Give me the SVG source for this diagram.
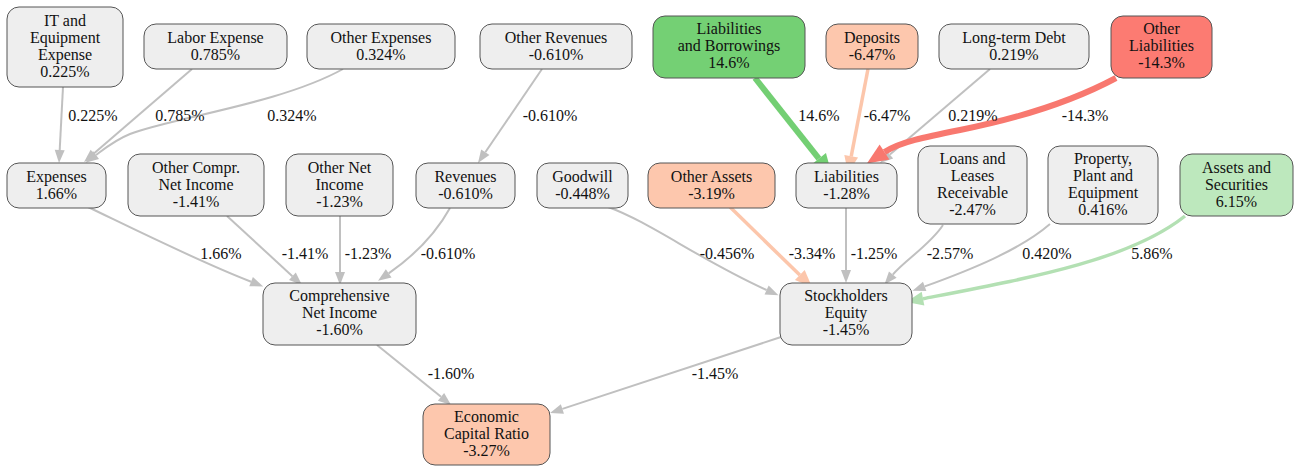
<svg xmlns="http://www.w3.org/2000/svg" width="1294" height="466" viewBox="0 0 1294 466" font-family="'Liberation Serif', 'Times New Roman', 'DejaVu Serif', serif" font-size="16">
<style>
.n rect{stroke:#555;stroke-width:1}
.g rect{fill:#eeeeee}
.peach rect{fill:#fdc7ad}
.green rect{fill:#74d074}
.red rect{fill:#fc7b72}
.lgreen rect{fill:#bde8bd}
text{fill:#111;text-anchor:middle}
.e path{fill:none}
.eg{stroke:#c0c0c0;stroke-width:2}
.ep{stroke:#fcc6ab;stroke-width:3.5}
.egr{stroke:#73cf73;stroke-width:6}
.er{stroke:#f8786f;stroke-width:6}
.elg{stroke:#b3e0b3;stroke-width:3.5}
</style>
<defs>
<marker id="mg" markerUnits="userSpaceOnUse" viewBox="0 -5 13 10" refX="0" refY="0" markerWidth="13" markerHeight="10" orient="auto" overflow="visible"><path d="M0,-5 L13,0 L0,5 z" fill="#c0c0c0"/></marker>
<marker id="mp" markerUnits="userSpaceOnUse" viewBox="0 -7 17 14" refX="0" refY="0" markerWidth="17" markerHeight="14" orient="auto" overflow="visible"><path d="M0,-7 L17,0 L0,7 z" fill="#fcc6ab"/></marker>
<marker id="mlg" markerUnits="userSpaceOnUse" viewBox="0 -7 17 14" refX="0" refY="0" markerWidth="17" markerHeight="14" orient="auto" overflow="visible"><path d="M0,-7 L17,0 L0,7 z" fill="#b3e0b3"/></marker>
<marker id="mgr" markerUnits="userSpaceOnUse" viewBox="0 -9 21 18" refX="0" refY="0" markerWidth="21" markerHeight="18" orient="auto" overflow="visible"><path d="M0,-9 L21,0 L0,9 z" fill="#73cf73"/></marker>
<marker id="mr" markerUnits="userSpaceOnUse" viewBox="0 -9 21 18" refX="0" refY="0" markerWidth="21" markerHeight="18" orient="auto" overflow="visible"><path d="M0,-9 L21,0 L0,9 z" fill="#f8786f"/></marker>
</defs>

<g id="connectors" class="e">
<path class="eg" d="M63,87 L59.7,150" marker-end="url(#mg)"/>
<path class="eg" d="M192,69 L93.9,153.5" marker-end="url(#mg)"/>
<path class="eg" d="M343,69 C280,104 170,118 130,134 C115,140 104,149 96,155" marker-end="url(#mg)"/>
<path class="eg" d="M542,69 L485.3,152.3" marker-end="url(#mg)"/>
<path class="eg" d="M990,69 L889.9,154.6" marker-end="url(#mg)"/>
<path class="ep" d="M868,69 L851.2,156.3" marker-end="url(#mp)"/>
<path class="egr" d="M755,78 L818.9,158.6" marker-end="url(#mgr)"/>
<path class="er" d="M1116,78 C1060,108 1000,122 960,130 C925,137 900,142 884.5,152" marker-end="url(#mr)"/>
<path class="eg" d="M88,207 C140,232 200,262 251.1,281.7" marker-end="url(#mg)"/>
<path class="eg" d="M227,216 L292.4,276.2" marker-end="url(#mg)"/>
<path class="eg" d="M340,216 L340,272" marker-end="url(#mg)"/>
<path class="eg" d="M450,208 C435,235 415,255 388.7,273.4" marker-end="url(#mg)"/>
<path class="eg" d="M608,207 C650,222 700,260 766.6,290" marker-end="url(#mg)"/>
<path class="ep" d="M730,207 L799.8,275.1" marker-end="url(#mp)"/>
<path class="eg" d="M846,208 L846,270" marker-end="url(#mg)"/>
<path class="eg" d="M943,225 C930,245 905,260 892.8,274.6" marker-end="url(#mg)"/>
<path class="eg" d="M1050,224 C1020,250 970,270 924.7,286.4" marker-end="url(#mg)"/>
<path class="elg" d="M1185,216 C1130,260 1030,278 923,298.7" marker-end="url(#mlg)"/>
<path class="eg" d="M377,345 L441,396.8" marker-end="url(#mg)"/>
<path class="eg" d="M781,337 L562.4,408.9" marker-end="url(#mg)"/>
</g>

<g id="edge-labels">
<text x="93" y="121">0.225%</text>
<text x="180" y="121">0.785%</text>
<text x="292" y="121">0.324%</text>
<text x="550" y="121">-0.610%</text>
<text x="819" y="121">14.6%</text>
<text x="887" y="121">-6.47%</text>
<text x="973" y="121">0.219%</text>
<text x="1085" y="121">-14.3%</text>
<text x="221" y="259">1.66%</text>
<text x="305" y="259">-1.41%</text>
<text x="368" y="259">-1.23%</text>
<text x="448" y="259">-0.610%</text>
<text x="727" y="259">-0.456%</text>
<text x="812" y="259">-3.34%</text>
<text x="874" y="259">-1.25%</text>
<text x="950" y="259">-2.57%</text>
<text x="1047" y="259">0.420%</text>
<text x="1152" y="259">5.86%</text>
<text x="451" y="379">-1.60%</text>
<text x="715" y="379">-1.45%</text>
</g>

<g id="it-equipment-expense" class="n g"><rect x="7" y="7" width="116" height="80" rx="12"/><text x="65" y="26">IT and<tspan x="65" dy="17">Equipment</tspan><tspan x="65" dy="17">Expense</tspan><tspan x="65" dy="17">0.225%</tspan></text></g>
<g id="labor-expense" class="n g"><rect x="144" y="24" width="143" height="45" rx="12"/><text x="215.5" y="43">Labor Expense<tspan x="215.5" dy="17">0.785%</tspan></text></g>
<g id="other-expenses" class="n g"><rect x="307" y="24" width="148" height="45" rx="12"/><text x="381" y="43">Other Expenses<tspan x="381" dy="17">0.324%</tspan></text></g>
<g id="other-revenues" class="n g"><rect x="480" y="24" width="152" height="45" rx="12"/><text x="556" y="43">Other Revenues<tspan x="556" dy="17">-0.610%</tspan></text></g>
<g id="liabilities-borrowings" class="n green"><rect x="653" y="16" width="152" height="62" rx="12"/><text x="729" y="34">Liabilities<tspan x="729" dy="17">and Borrowings</tspan><tspan x="729" dy="17">14.6%</tspan></text></g>
<g id="deposits" class="n peach"><rect x="826" y="24" width="92" height="45" rx="12"/><text x="872" y="43">Deposits<tspan x="872" dy="17">-6.47%</tspan></text></g>
<g id="long-term-debt" class="n g"><rect x="939" y="24" width="150" height="45" rx="12"/><text x="1014" y="43">Long-term Debt<tspan x="1014" dy="17">0.219%</tspan></text></g>
<g id="other-liabilities" class="n red"><rect x="1111" y="16" width="101" height="62" rx="12"/><text x="1161.5" y="34">Other<tspan x="1161.5" dy="17">Liabilities</tspan><tspan x="1161.5" dy="17">-14.3%</tspan></text></g>

<g id="expenses" class="n g"><rect x="7" y="163" width="99" height="45" rx="12"/><text x="56.5" y="182">Expenses<tspan x="56.5" dy="17">1.66%</tspan></text></g>
<g id="other-compr-net-income" class="n g"><rect x="128" y="154" width="136" height="62" rx="12"/><text x="196" y="173">Other Compr.<tspan x="196" dy="17">Net Income</tspan><tspan x="196" dy="17">-1.41%</tspan></text></g>
<g id="other-net-income" class="n g"><rect x="286" y="154" width="107" height="62" rx="12"/><text x="339.5" y="173">Other Net<tspan x="339.5" dy="17">Income</tspan><tspan x="339.5" dy="17">-1.23%</tspan></text></g>
<g id="revenues" class="n g"><rect x="416" y="163" width="99" height="45" rx="12"/><text x="465.5" y="182">Revenues<tspan x="465.5" dy="17">-0.610%</tspan></text></g>
<g id="goodwill" class="n g"><rect x="537" y="163" width="91" height="45" rx="12"/><text x="582.5" y="182">Goodwill<tspan x="582.5" dy="17">-0.448%</tspan></text></g>
<g id="other-assets" class="n peach"><rect x="648" y="163" width="127" height="45" rx="12"/><text x="711.5" y="182">Other Assets<tspan x="711.5" dy="17">-3.19%</tspan></text></g>
<g id="liabilities" class="n g"><rect x="796" y="163" width="101" height="45" rx="12"/><text x="846.5" y="182">Liabilities<tspan x="846.5" dy="17">-1.28%</tspan></text></g>
<g id="loans-leases" class="n g"><rect x="918" y="146" width="109" height="78" rx="12"/><text x="972.5" y="164">Loans and<tspan x="972.5" dy="17">Leases</tspan><tspan x="972.5" dy="17">Receivable</tspan><tspan x="972.5" dy="17">-2.47%</tspan></text></g>
<g id="ppe" class="n g"><rect x="1048" y="146" width="110" height="78" rx="12"/><text x="1103" y="164">Property,<tspan x="1103" dy="17">Plant and</tspan><tspan x="1103" dy="17">Equipment</tspan><tspan x="1103" dy="17">0.416%</tspan></text></g>
<g id="assets-securities" class="n lgreen"><rect x="1180" y="154" width="113" height="62" rx="12"/><text x="1236.5" y="173">Assets and<tspan x="1236.5" dy="17">Securities</tspan><tspan x="1236.5" dy="17">6.15%</tspan></text></g>

<g id="comprehensive-net-income" class="n g"><rect x="263" y="283" width="153" height="62" rx="12"/><text x="339.5" y="301">Comprehensive<tspan x="339.5" dy="17">Net Income</tspan><tspan x="339.5" dy="17">-1.60%</tspan></text></g>
<g id="stockholders-equity" class="n g"><rect x="780" y="283" width="132" height="62" rx="12"/><text x="846" y="301">Stockholders<tspan x="846" dy="17">Equity</tspan><tspan x="846" dy="17">-1.45%</tspan></text></g>
<g id="economic-capital-ratio" class="n peach"><rect x="423" y="404" width="127" height="61" rx="12"/><text x="486.5" y="422">Economic<tspan x="486.5" dy="17">Capital Ratio</tspan><tspan x="486.5" dy="17">-3.27%</tspan></text></g>
</svg>
